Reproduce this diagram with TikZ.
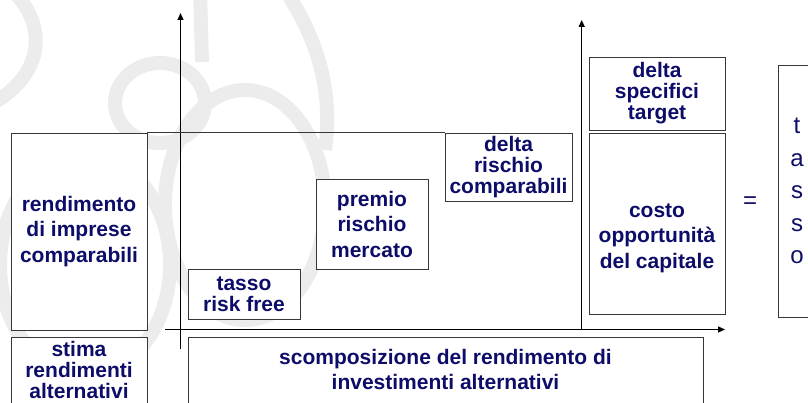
\documentclass[tikz,border=0pt]{standalone}
\usepackage{fontspec}
\setmainfont{Liberation Sans}
\usetikzlibrary{arrows.meta,calc}
\definecolor{blu}{RGB}{13,13,105}
\definecolor{bordo}{RGB}{55,55,55}
\definecolor{filigrana}{RGB}{236,236,236}

\begin{document}
\begin{tikzpicture}[x=1pt,y=-1pt,
  voce/.style={draw=bordo,line width=0.9pt,fill=white,align=center,text=blu,
    inner sep=0pt,font=\bfseries\fontsize{21}{21}\selectfont},
  largo/.style={voce,font=\bfseries\fontsize{21}{25.5}\selectfont},
  asse/.style={line width=1.1pt,-{Triangle[length=7pt,width=6pt]}},
  segno/.style={text=blu,font=\fontsize{24}{32.5}\selectfont}]
\useasboundingbox (0,0) rectangle (808,403);
% filigrana di sfondo
\begin{scope}[draw=filigrana,line width=14pt]
\draw (12,-10) .. controls (48,25) and (45,75) .. (-10,105);
\draw (200,-10) -- (202,62);
\draw (160,103) ellipse [x radius=45, y radius=40];
\draw (245,205) ellipse [x radius=80, y radius=115];
\draw (285,-10) .. controls (318,40) and (333,90) .. (325,150);
\draw (85,265) ellipse [x radius=85, y radius=110];
\end{scope}
% assi
\coordinate (o1) at (180.5,349);
\coordinate (y1) at (180.5,13);
\coordinate (x0) at (165,329.5);
\coordinate (x1) at (725,329.5);
\coordinate (o2) at (581.7,329.5);
\coordinate (y2) at (581.7,20);
\draw[asse] (o1) -- (y1);
\draw[asse] (x0) -- (x1);
\draw[asse] (o2) -- (y2);
% riquadri
\node[largo,minimum width=136,minimum height=197] (rend) at (79,231.5) {rendimento\\di imprese\\comparabili};
\node[voce,minimum width=136,minimum height=70] (stima) at (79,372) {stima\\rendimenti\\alternativi\rule[-4pt]{0pt}{0pt}};
\node[voce,minimum width=112,minimum height=50] (risk) at (244,294) {tasso\\risk free};
\node[largo,minimum width=112,minimum height=90] (premio) at (372,224) {premio\\rischio\\mercato};
\node[voce,minimum width=127,minimum height=68] (drisch) at (508.5,167) {delta\\rischio\\comparabili};
\node[voce,minimum width=136,minimum height=73] (dspec) at (657,93.5) {delta\\specifici\\target};
\node[largo,minimum width=136,minimum height=181] (costo) at (657,223.5) {\rule{0pt}{43pt}costo\\opportunità\\del capitale};
\node[largo,minimum width=515,minimum height=70] (scomp) at (445.5,372) {scomposizione del rendimento di\\investimenti alternativi\rule[-5pt]{0pt}{0pt}};
\draw[bordo,line width=0.9pt] (rend.north east) -- (drisch.north west);
% risultato
\node[segno] (uguale) at (750,203) {=};
\node[segno,draw=bordo,line width=0.9pt,fill=white,align=center,minimum width=38,minimum height=252] (tasso) at (797,191) {t\\a\\s\\s\\o};
\end{tikzpicture}
\end{document}
